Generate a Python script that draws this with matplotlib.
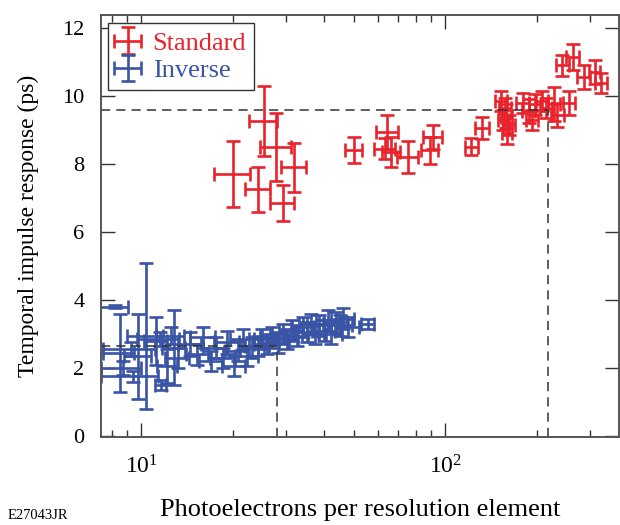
import numpy as np
import matplotlib
matplotlib.use('Agg')
import matplotlib.pyplot as plt
from matplotlib.ticker import NullLocator, LogLocator

plt.rcParams['font.family'] = ['Liberation Serif', 'DejaVu Serif']
plt.rcParams['mathtext.fontset'] = 'stix'

# 标准 (Standard) 数据：x, y, x误差, y误差
std_x = [20.1, 25.3, 27.8, 31.8, 24.3, 29.2, 50.1, 64.5, 63.5, 66.5, 75.5, 91, 89,
         122, 132, 153, 157, 159, 155, 162, 160, 180, 188, 198, 208, 193, 215,
         228, 234, 256, 243, 263, 286, 310, 326]
std_y = [7.7, 9.25, 8.5, 7.9, 7.25, 6.85, 8.4, 8.95, 8.45, 8.35, 8.2, 8.8, 8.4,
         8.5, 9.05, 9.85, 9.65, 9.4, 9.3, 9.15, 8.9, 9.8, 9.55, 9.75, 9.85, 9.3, 9.65,
         9.75, 9.45, 9.8, 10.9, 11.15, 10.55, 10.7, 10.38]
std_xerr = [2.7, 2.6, 3.2, 3.0, 2.3, 2.7, 3.2, 5.5, 5.0, 4.5, 6.0, 6.5, 6.0,
            6, 7, 7, 7, 7, 6, 7, 6, 9, 9, 9, 9, 9, 10,
            11, 11, 12, 12, 13, 14, 14, 14]
std_yerr = [0.97, 1.03, 1.0, 0.72, 0.66, 0.52, 0.38, 0.5, 0.3, 0.45, 0.47, 0.35, 0.4,
            0.25, 0.32, 0.3, 0.3, 0.35, 0.3, 0.3, 0.3, 0.3, 0.35, 0.3, 0.3, 0.3, 0.3,
            0.5, 0.35, 0.35, 0.3, 0.38, 0.35, 0.35, 0.3]

# 反向 (Inverse) 数据
inv_x = [8.2, 8.5, 9.8, 10.4, 11.2, 12.8, 8.7, 9.4, 11.6, 9.3, 11.5, 12.5, 13.2, 12.2,
         14.5, 15.3, 16.0, 17.0, 17.6, 18.6, 19.2, 20.2, 20.8, 21.6, 22.3, 23.2, 24.2,
         25.0, 26.0, 27.0, 28.2, 29.2, 30.2, 31.3, 32.6, 34.0, 35.2, 36.3, 37.2, 38.6,
         40.0, 41.2, 42.2, 43.6, 45.2, 46.2, 48.0, 55.6]
inv_y = [3.8, 2.45, 2.35, 2.95, 2.8, 2.6, 2.0, 1.75, 1.5, 2.55, 2.85, 2.95, 2.3, 2.05,
         2.7, 2.4, 2.9, 2.2, 2.6, 2.3, 2.75, 2.05, 2.5, 2.85, 2.35, 2.6, 2.65,
         2.85, 2.7, 2.9, 2.75, 3.0, 2.85, 3.1, 2.95, 3.2, 3.05, 3.3, 3.0, 3.25,
         3.1, 3.4, 3.0, 3.35, 3.25, 3.45, 3.2, 3.3]
inv_xerr = [0.85, 1.0, 1.0, 1.4, 1.0, 1.1, 1.3, 2.0, 0.5, 1.8, 1.8, 1.3, 1.2, 0.9,
            1.3, 1.3, 1.5, 1.5, 1.6, 1.7, 1.8, 1.8, 1.9, 2.0, 2.0, 2.1, 2.2,
            2.3, 2.4, 2.4, 2.5, 2.6, 2.7, 2.8, 2.9, 3.0, 3.1, 3.2, 3.3, 3.4,
            3.5, 3.6, 3.7, 3.8, 4.0, 4.0, 4.2, 2.8]
inv_yerr = [0.05, 1.15, 1.25, 2.15, 0.7, 1.1, 0.2, 0.15, 0.15, 0.2, 0.2, 0.25, 0.3, 0.5,
            0.35, 0.3, 0.3, 0.3, 0.3, 0.3, 0.35, 0.3, 0.3, 0.3, 0.3, 0.3, 0.3,
            0.3, 0.3, 0.3, 0.3, 0.3, 0.3, 0.3, 0.3, 0.3, 0.3, 0.3, 0.3, 0.3,
            0.3, 0.3, 0.3, 0.3, 0.3, 0.3, 0.3, 0.15]

# 虚线参考位置
ref_std = (218, 9.6)
ref_inv = (28.0, 2.65)

red = '#E8232B'
blue = '#3A54A5'

fig = plt.figure(figsize=(6.2, 5.25), dpi=100)
ax = fig.add_axes([0.163, 0.1676, 0.8355, 0.8038])
ax.set_xscale('log')
xmin, xmax = 7.386, 373
ymin, ymax = -0.03, 12.38

ekw = dict(fmt='none', elinewidth=1.9, capsize=5, capthick=1.9)
h_std = ax.errorbar(std_x, std_y, xerr=std_xerr, yerr=std_yerr, ecolor=red, label='Standard', **ekw)
h_inv = ax.errorbar(inv_x, inv_y, xerr=inv_xerr, yerr=inv_yerr, ecolor=blue, label='Inverse', **ekw)

# 虚线
dkw = dict(color='#333333', lw=1.1, linestyle=(0, (6, 4)))
ax.plot([xmin, ref_std[0]], [ref_std[1], ref_std[1]], **dkw)
ax.plot([ref_std[0], ref_std[0]], [ymin, ref_std[1]], **dkw)
ax.plot([xmin, ref_inv[0]], [ref_inv[1], ref_inv[1]], **dkw)
ax.plot([ref_inv[0], ref_inv[0]], [ymin, ref_inv[1]], **dkw)

ax.set_xlim(xmin, xmax)
ax.set_ylim(ymin, ymax)
ax.set_yticks([0, 2, 4, 6, 8, 10, 12])
ax.yaxis.set_minor_locator(NullLocator())
ax.xaxis.set_major_locator(LogLocator(base=10))
ax.xaxis.set_minor_locator(LogLocator(base=10, subs=np.arange(2, 10)))

ax.tick_params(which='both', direction='in', top=True, right=True, width=1.0, color='#333333')
ax.tick_params(which='major', length=10)
ax.tick_params(which='minor', length=5)
ax.tick_params(axis='x', which='major', labelsize=17, pad=13)
ax.tick_params(axis='y', which='major', labelsize=16, pad=12)
for s in ax.spines.values():
    s.set_color('#555555')
    s.set_linewidth(1.4)

ax.set_xlabel('Photoelectrons per resolution element', fontsize=19, labelpad=15)
ax.set_ylabel('Temporal impulse response (ps)', fontsize=17, labelpad=17)

leg = ax.legend(handles=[h_std, h_inv], loc='upper left', bbox_to_anchor=(0.013, 0.98),
                borderaxespad=0, fontsize=19, handlelength=0.9, handletextpad=0.5,
                labelspacing=0.15, borderpad=0.3, fancybox=False, framealpha=1)
leg.get_frame().set_edgecolor('#333333')
leg.get_frame().set_linewidth(1.0)
for t, c in zip(leg.get_texts(), [red, blue]):
    t.set_color(c)

fig.text(0.013, 0.012, 'E27043JR', fontsize=10.5)

plt.savefig('out.png', dpi=100)
